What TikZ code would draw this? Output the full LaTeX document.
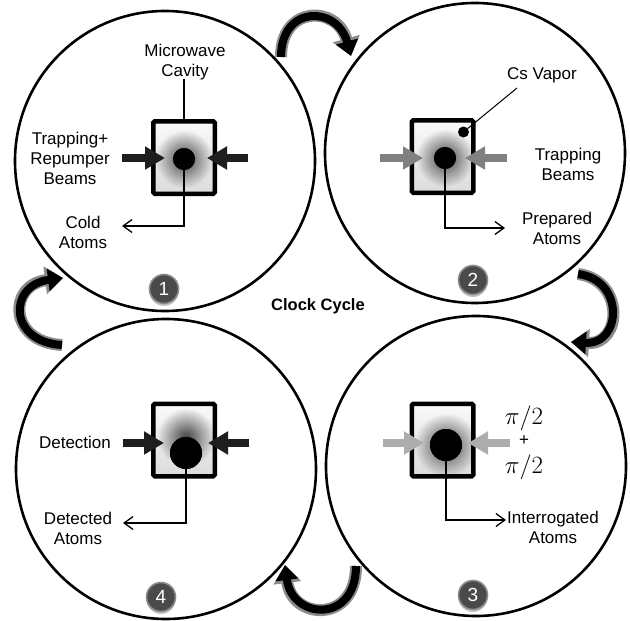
\documentclass[tikz,border=0pt]{standalone}
\usepackage[no-math]{fontspec}
\setmainfont{Liberation Sans}
\usetikzlibrary{arrows.meta,fadings,shadows}
\tikzfading[name=hazefade, inner color=transparent!0, outer color=transparent!100]
\definecolor{beamdark}{HTML}{1E1E1E}
\definecolor{beammid}{HTML}{808080}
\definecolor{beamlight}{HTML}{ADADAD}
\definecolor{badgefill}{HTML}{4A4A4A}
\definecolor{badgering}{HTML}{8C8C8C}
\begin{document}
\begin{tikzpicture}[x=1pt,y=-1pt,
  ring/.style={circle,draw=black,line width=2.6pt,minimum size=300pt,inner sep=0pt},
  cavityfill/.style={rectangle,inner sep=0pt,outer sep=0pt,minimum width=61.5pt,minimum height=72.5pt,top color=gray!4,bottom color=gray!28},
  cavityrim/.style={draw=black,line width=4.5pt,rounded corners=1.5pt},
  haze/.style={fill=black,opacity=0.7,path fading=hazefade},
  dot/.style={circle,fill=black,inner sep=0pt,outer sep=0pt},
  beam/.style={line width=8pt,-{Triangle[length=20pt,width=22pt]}},
  lead/.style={line width=1.3pt,-{Straight Barb[length=9pt,width=13pt]}},
  plainlead/.style={line width=1.3pt},
  lbl/.style={align=center,inner sep=0pt,font=\fontsize{17}{20}\selectfont},
  pilbl/.style={inner sep=0pt,font=\fontsize{24}{24}\selectfont},
  badge/.style={circle,fill=badgefill,draw=badgering,line width=1.6pt,minimum size=29pt,inner sep=0pt,text=white,font=\fontsize{19}{19}\selectfont,drop shadow={shadow xshift=0pt,shadow yshift=-2.5pt,opacity=0.45}},
  cyclehalo/.style={line width=12pt,draw=black!45,-{Triangle[length=18pt,width=27pt]}},
  cyclecore/.style={line width=8pt,draw=black,-{Triangle[length=15pt,width=22pt]}},
]
\useasboundingbox (0,0) rectangle (630,621);

% ---------- stage circles ----------
\node[ring] (s1) at (165,161) {};
\node[ring] (s2) at (475,153) {};
\node[ring] (s3) at (476,466) {};
\node[ring] (s4) at (166,469) {};

% ---------- stage 1 ----------
\node[cavityfill] (cav1) at (184,157.5) {};
\begin{scope}
  \clip (cav1.south west) rectangle (cav1.north east);
  \fill[haze] (184,159) circle (29);
\end{scope}
\draw[cavityrim] (cav1.south west) rectangle (cav1.north east);
\node[dot,minimum size=22pt] (d1) at (184,159) {};
\node[lbl] (mw) at (185,62) {Microwave\\Cavity};
\coordinate (mwend) at (184,79);
\draw[plainlead] (cav1.north) -- (mwend);
\node[lbl] (trap1) at (70,158) {Trapping+\\Repumper\\Beams};
\node[lbl] (cold) at (83,232.5) {Cold\\Atoms};
\coordinate (coldtip) at (122,226);
\draw[lead] (d1.center) |- (coldtip);
\node[dot,minimum size=22pt] at (d1) {};
\coordinate (b1lt) at (122,158);
\coordinate (b1lh) at (165,158);
\coordinate (b1rt) at (248,158);
\coordinate (b1rh) at (207,158);
\draw[beam,draw=beamdark] (b1lt) -- (b1lh);
\draw[beam,draw=beamdark] (b1rt) -- (b1rh);
\node[badge] (n1) at (164,289) {1};

% ---------- stage 2 ----------
\node[cavityfill] (cav2) at (442.5,156.5) {};
\begin{scope}
  \clip (cav2.south west) rectangle (cav2.north east);
  \fill[haze] (445,158) circle (29);
\end{scope}
\draw[cavityrim] (cav2.south west) rectangle (cav2.north east);
\node[dot,minimum size=11pt] (cs) at (463.5,132) {};
\node[lbl] (csv) at (542,75) {Cs Vapor};
\coordinate (csend) at (517,88);
\draw[line width=1pt] (cs) -- (csend);
\node[lbl] (trap2) at (568,164) {Trapping\\Beams};
\node[lbl] (prep) at (557,228.5) {Prepared\\Atoms};
\node[dot,minimum size=22pt] (d2) at (445,158) {};
\coordinate (preptip) at (505,228);
\draw[lead] (d2.center) |- (preptip);
\node[dot,minimum size=22pt] at (d2) {};
\coordinate (b2lt) at (380,158);
\coordinate (b2lh) at (423,158);
\coordinate (b2rt) at (507,158);
\coordinate (b2rh) at (465,158);
\draw[beam,draw=beammid] (b2lt) -- (b2lh);
\draw[beam,draw=beammid] (b2rt) -- (b2rh);
\node[badge] (n2) at (473,280) {2};

% ---------- stage 3 ----------
\node[cavityfill] (cav3) at (442.5,440) {};
\begin{scope}
  \clip (cav3.south west) rectangle (cav3.north east);
  \fill[haze] (446,445) circle (32);
\end{scope}
\draw[cavityrim] (cav3.south west) rectangle (cav3.north east);
\node[dot,minimum size=32pt] (d3) at (446,445) {};
\node[pilbl] (pia) at (524,418) {$\pi/2$};
\node[inner sep=0pt,font=\fontsize{17}{17}\selectfont] (plus) at (524,441) {+};
\node[pilbl] (pib) at (524,467) {$\pi/2$};
\node[lbl] (intr) at (553,527) {Interrogated\\Atoms};
\coordinate (intrtip) at (506,520);
\draw[lead] (d3.center) |- (intrtip);
\node[dot,minimum size=32pt] at (d3) {};
\coordinate (b3lt) at (383,443);
\coordinate (b3lh) at (424,443);
\coordinate (b3rt) at (510,443);
\coordinate (b3rh) at (468,443);
\draw[beam,draw=beamlight] (b3lt) -- (b3lh);
\draw[beam,draw=beamlight] (b3rt) -- (b3rh);
\node[badge] (n3) at (473,595) {3};

% ---------- stage 4 ----------
\node[cavityfill] (cav4) at (184,440) {};
\begin{scope}
  \clip (cav4.south west) rectangle (cav4.north east);
  \fill[haze] (186,437) circle (29);
\end{scope}
\draw[cavityrim] (cav4.south west) rectangle (cav4.north east);
\node[dot,minimum size=32pt] (d4) at (186,453) {};
\node[lbl] (det) at (75,442) {Detection};
\node[lbl] (deta) at (78,528) {Detected\\Atoms};
\coordinate (dettip) at (123,523);
\draw[lead] (d4.center) |- (dettip);
\node[dot,minimum size=32pt] at (d4) {};
\coordinate (b4lt) at (123,443);
\coordinate (b4lh) at (164,443);
\coordinate (b4rt) at (249,443);
\coordinate (b4rh) at (208,443);
\draw[beam,draw=beamdark] (b4lt) -- (b4lh);
\draw[beam,draw=beamdark] (b4rt) -- (b4rh);
\node[badge] (n4) at (161,597) {4};

% ---------- centre title ----------
\node[inner sep=0pt,font=\bfseries\fontsize{16.5}{20}\selectfont] (cc) at (318,306) {Clock Cycle};

% ---------- cycle arrows ----------
\coordinate (c12a) at (281,57);
\coordinate (c12b) at (351,56);
\coordinate (c23a) at (578,274);
\coordinate (c23b) at (571,342);
\coordinate (c34a) at (356,566);
\coordinate (c34b) at (285,565);
\coordinate (c41a) at (62,345);
\coordinate (c41b) at (63,278);
\foreach \sty in {cyclehalo,cyclecore}{
  \draw[\sty] (c12a) .. controls (281,5) and (337,5) .. (c12b);
  \draw[\sty] (c23a) .. controls (625,280) and (622,345) .. (c23b);
  \draw[\sty] (c34a) .. controls (356,624) and (292,620) .. (c34b);
  \draw[\sty] (c41a) .. controls (8,342) and (8,285) .. (c41b);
}
\end{tikzpicture}
\end{document}
